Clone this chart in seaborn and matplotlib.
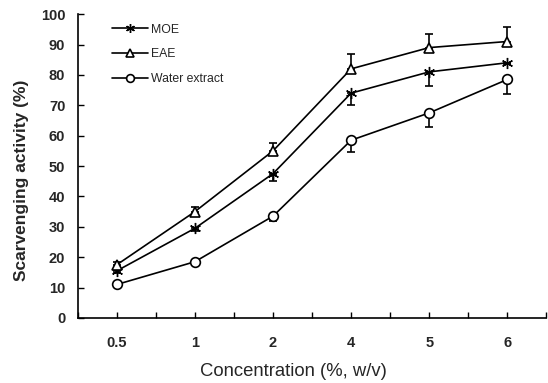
import matplotlib
matplotlib.use("Agg")
import matplotlib.pyplot as plt
import seaborn as sns
import numpy as np
import pandas as pd
from matplotlib.ticker import MultipleLocator

sns.set_style("white")
plt.rcParams['font.family'] = ['Liberation Sans', 'DejaVu Sans']

concentrations = ["0.5", "1", "2", "4", "5", "6"]
moe = [15.5, 29.5, 47.5, 74.0, 81.0, 84.0]
moe_err = [0.8, 1.0, 2.5, 3.8, 4.5, 0.5]
eae = [17.5, 35.0, 55.0, 82.0, 89.0, 91.0]
eae_err = [1.0, 1.5, 2.5, 4.8, 4.5, 4.8]
water = [11.0, 18.5, 33.5, 58.5, 67.5, 78.5]
water_err = [0.5, 1.0, 1.5, 4.0, 4.5, 4.8]

series_names = ["MOE", "EAE", "Water extract"]
series_vals = [moe, eae, water]
series_errs = [moe_err, eae_err, water_err]
err_dir = ["down", "up", "down"]
markers = [(6, 2, 0), "^", "o"]

rows = []
for name, vals in zip(series_names, series_vals):
    for i, (c, v) in enumerate(zip(concentrations, vals)):
        rows.append({"pos": i, "conc": c, "val": v, "series": name})
df = pd.DataFrame(rows)

fig = plt.figure(figsize=(5.48, 3.83), dpi=100)
ax = fig.add_axes([0.142, 0.170, 0.855, 0.793])

for name, vals, errs, d, mk in zip(series_names, series_vals, series_errs, err_dir, markers):
    sub = df[df.series == name]
    pos = sub["pos"].to_numpy()
    if d == "up":
        yerr = [np.zeros(len(errs)), np.array(errs)]
    else:
        yerr = [np.array(errs), np.zeros(len(errs))]
    ax.errorbar(pos, sub["val"].to_numpy(), yerr=yerr, fmt="none", ecolor="black",
                elinewidth=1.2, capsize=3.2, capthick=1.2, zorder=2)
    is_star = mk == (6, 2, 0)
    sns.lineplot(data=sub, x="pos", y="val", ax=ax, color="black", linewidth=1.2,
                 marker=mk, markersize=8 if is_star else 7,
                 markerfacecolor="black" if is_star else "white",
                 markeredgecolor="black", markeredgewidth=1.0 if is_star else 1.2,
                 label=name, zorder=3)

ax.set_xlim(-0.5, 5.5)
ax.set_ylim(0, 100)
ax.set_xticks(range(len(concentrations)))
ax.set_xticklabels(concentrations)
ax.xaxis.set_minor_locator(MultipleLocator(0.5))
ax.yaxis.set_major_locator(MultipleLocator(10))
ax.tick_params(axis="both", which="both", direction="in", length=4, width=1, color="black",
               labelsize=10.5, bottom=True, left=True)
ax.tick_params(axis="x", pad=13)
ax.tick_params(axis="y", pad=9)
for lbl in ax.get_xticklabels() + ax.get_yticklabels():
    lbl.set_fontweight("bold")

for s in ["top", "right"]:
    ax.spines[s].set_visible(False)
for s in ["left", "bottom"]:
    ax.spines[s].set_color("black")
    ax.spines[s].set_linewidth(1.2)

ax.set_xlabel("Concentration (%, w/v)", fontsize=13.3)
ax.xaxis.set_label_coords(0.46, -0.148)
ax.set_ylabel("Scarvenging activity (%)", fontsize=12.5, fontweight="bold")
ax.yaxis.set_label_coords(-0.104, 0.454)

leg = ax.legend(loc="upper left", bbox_to_anchor=(0.062, 0.985), frameon=False,
                fontsize=8.8, handlelength=3.0, handletextpad=0.2, labelspacing=1.05,
                borderaxespad=0, markerscale=0.8)

fig.savefig("out.png", dpi=100)
